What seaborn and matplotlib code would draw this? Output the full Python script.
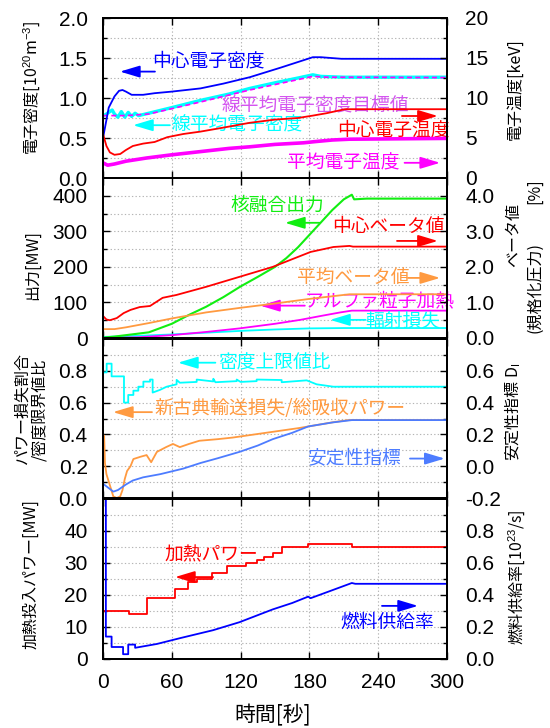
import matplotlib
matplotlib.use("Agg")
import matplotlib.pyplot as plt
from matplotlib.ticker import FixedLocator, FormatStrFormatter
import pandas as pd
import seaborn as sns

# ---------------- time traces (time in seconds) ----------------
# panel 1: densities (1e20 m^-3, left) and temperatures (keV, right)
ne0_t = [0, 2, 5, 10, 14, 17, 20, 25, 35, 45, 60, 85, 105, 128, 155, 183, 190, 208, 300]
ne0 = [0.50, 0.65, 0.88, 1.02, 1.09, 1.10, 1.08, 1.04, 1.04, 1.06, 1.08, 1.12, 1.18, 1.26,
       1.38, 1.51, 1.51, 1.49, 1.49]

nebar_t = [0, 2, 5, 8, 10, 13, 16, 19, 22, 25, 28, 31, 40, 60, 85, 110, 128, 150, 170, 183,
           190, 210, 300]
nebar = [0.78, 0.79, 0.82, 0.85, 0.80, 0.76, 0.83, 0.76, 0.82, 0.77, 0.81, 0.78, 0.81, 0.88,
         0.97, 1.05, 1.12, 1.19, 1.25, 1.29, 1.27, 1.26, 1.26]

target_t = [0, 20, 40, 85, 128, 183, 195, 300]
target = [0.78, 0.78, 0.80, 0.95, 1.10, 1.27, 1.26, 1.255]

te0_t = [0, 3, 6, 10, 15, 20, 26, 35, 45, 56, 70, 85, 105, 128, 150, 170, 183, 195, 211, 300]
te0 = [5.5, 4.0, 3.2, 2.9, 3.0, 3.5, 4.0, 4.3, 4.5, 5.1, 5.5, 5.8, 6.3, 6.9, 7.3, 7.5, 7.8,
       8.1, 8.6, 8.6]

teavg_t = [0, 4, 10, 20, 38, 60, 85, 110, 128, 150, 175, 185, 200, 215, 300]
teavg = [1.9, 1.6, 1.75, 2.1, 2.5, 2.9, 3.3, 3.7, 3.9, 4.2, 4.4, 4.55, 4.75, 4.85, 4.95]

# panel 2: powers (MW, left) and beta (%, right)
pfus_t = [0, 10, 20, 30, 40, 50, 60, 75, 90, 105, 120, 135, 150, 160, 170, 180, 190, 200,
          210, 217, 219, 230, 300]
pfus = [1, 4, 8, 12, 16, 28, 40, 65, 88, 115, 145, 172, 200, 225, 255, 290, 325, 360, 390,
        403, 390, 392, 392]

beta0_t = [0, 3, 6, 12, 18, 24, 32, 41, 52, 64, 90, 119, 148, 181, 201, 215, 218, 300]
beta0 = [0.62, 0.52, 0.50, 0.56, 0.70, 0.79, 0.87, 0.90, 1.13, 1.21, 1.44, 1.72, 2.00, 2.42,
         2.56, 2.59, 2.57, 2.57]

betaavg_t = [0, 10, 20, 40, 60, 90, 120, 150, 180, 215, 300]
betaavg = [0.25, 0.25, 0.30, 0.42, 0.55, 0.72, 0.85, 0.97, 1.10, 1.23, 1.23]

palpha_t = [0, 30, 60, 90, 119, 150, 172, 190, 207, 217, 300]
palpha = [0, 2, 8, 17, 27, 40, 51, 62, 72, 77, 77]

prad_t = [0, 30, 60, 90, 120, 150, 180, 210, 300]
prad = [3, 6, 10, 15, 20, 24, 27, 28, 28]

# panel 3: loss fraction / density-limit ratio (left), stability index D_I (right)
ndl_t = [0, 3.2, 3.2, 7.5, 7.5, 18.3, 18.3, 22, 22, 26.5, 26.5, 30.8, 30.8, 35.2, 35.2, 41,
         41, 43.3, 43.3, 49.7, 55.5, 64.2, 64.2, 67, 81.7, 81.7, 96.2, 96.2, 98, 116.6,
         116.6, 120, 134, 134, 155.8, 155.8, 177.6, 186.3, 200.9, 300]
ndl = [0.79, 0.79, 0.845, 0.845, 0.765, 0.765, 0.60, 0.60, 0.648, 0.648, 0.675, 0.675, 0.70,
       0.70, 0.732, 0.732, 0.745, 0.745, 0.663, 0.68, 0.70, 0.715, 0.743, 0.725, 0.73, 0.745,
       0.733, 0.75, 0.728, 0.735, 0.745, 0.73, 0.735, 0.745, 0.742, 0.728, 0.74, 0.715, 0.70,
       0.70]

neo_t = [0, 1, 1.7, 3, 6, 9, 12, 15, 17, 19, 21, 24, 26.5, 33, 38, 42, 47, 55, 61, 67, 75,
         84, 100, 113, 142, 171, 201, 214, 300]
neo = [0.40, 0.39, 0.22, 0.15, 0.08, 0.01, 0.0, 0.01, 0.05, 0.12, 0.17, 0.20, 0.245, 0.26,
       0.27, 0.225, 0.29, 0.32, 0.34, 0.32, 0.34, 0.36, 0.37, 0.38, 0.41, 0.44, 0.477, 0.49,
       0.49]

stab_t = [0, 9, 13, 20, 26, 35, 50, 70, 85, 100, 119, 135, 148, 165, 179, 200, 217, 300]
stab = [-0.11, -0.16, -0.15, -0.115, -0.09, -0.07, -0.05, -0.015, 0.02, 0.05, 0.09, 0.13,
        0.17, 0.21, 0.25, 0.275, 0.29, 0.29]

# panel 4: heating power (MW, left, stepwise) and fuelling rate (1e23/s, right)
heat_t = [0, 23, 38, 63, 74, 82, 95, 108, 125, 134, 140, 148, 156, 179, 217, 300]
heat = [15, 14, 19, 22, 24, 25, 27, 29, 30, 31, 32, 33, 35, 36, 35, 35]

fuel_t = [0, 2.5, 2.5, 7.5, 7.5, 17.5, 17.5, 22, 22, 28, 28, 47, 67, 96, 119, 148, 165, 179,
          181, 200, 217, 220, 300]
fuel = [1.05, 1.05, 0.14, 0.14, 0.075, 0.075, 0.03, 0.03, 0.09, 0.09, 0.07, 0.094, 0.13, 0.18,
        0.23, 0.31, 0.35, 0.39, 0.38, 0.43, 0.475, 0.47, 0.47]

# axis ticks
x_ticks = [0, 60, 120, 180, 240, 300]

# ---------------- style ----------------
sns.set_theme(style="ticks")
plt.rcParams["font.family"] = ["Liberation Sans", "Noto Sans CJK JP"]
plt.rcParams["mathtext.fontset"] = "custom"
plt.rcParams["mathtext.rm"] = "Liberation Sans"
plt.rcParams["mathtext.it"] = "Liberation Sans:italic"
plt.rcParams["mathtext.bf"] = "Liberation Sans:bold"

JP = ["Noto Sans CJK JP", "Liberation Sans"]
BLUE = "#0000ff"
RED = "#ff0000"
CYAN = "#00ffff"
MAGENTA = "#ff00ff"
VIOLET = "#d455f0"
GREEN = "#11ee11"
ORANGE = "#ff9a40"
SKY = "#4d7cff"

W, H = 550, 728
fig = plt.figure(figsize=(W / 100, H / 100), dpi=100)


def panel(top, bottom):
    return fig.add_axes([103 / W, 1 - bottom / H, 344 / W, (bottom - top) / H])


def trace(ax, t, v, color, lw=1.3, **kw):
    frame = pd.DataFrame({"t": t, "v": v})
    sns.lineplot(data=frame, x="t", y="v", ax=ax, color=color, linewidth=lw,
                 sort=False, estimator=None, legend=False, **kw)
    ax.set_xlabel("")
    ax.set_ylabel("")


def style(ax, ax2, ylim, lmaj, lmin, lfmt, y2lim, rmaj, rmin, rfmt, bottom=False):
    ax.set_xlim(0, 300)
    ax.set_ylim(*ylim)
    ax2.set_ylim(*y2lim)
    ax.xaxis.set_major_locator(FixedLocator(x_ticks))
    ax.yaxis.set_major_locator(FixedLocator(lmaj))
    ax.yaxis.set_minor_locator(FixedLocator(lmin))
    ax.yaxis.set_major_formatter(FormatStrFormatter(lfmt))
    ax2.yaxis.set_major_locator(FixedLocator(rmaj))
    ax2.yaxis.set_minor_locator(FixedLocator(rmin))
    ax2.yaxis.set_major_formatter(FormatStrFormatter(rfmt))
    ax.tick_params(axis="x", which="major", direction="in", top=True, bottom=True,
                   length=5, width=1, labelsize=15, pad=10, labelbottom=bottom,
                   colors="black")
    ax.tick_params(axis="y", which="both", direction="in", left=True, right=False,
                   labelsize=15, pad=11, width=1, colors="black")
    ax.tick_params(axis="y", which="major", length=5)
    ax.tick_params(axis="y", which="minor", length=3)
    ax2.tick_params(axis="y", which="both", direction="in", right=True, left=False,
                    labelsize=15, pad=13, width=1, colors="black")
    ax2.tick_params(axis="y", which="major", length=5)
    ax2.tick_params(axis="y", which="minor", length=3)
    ax.grid(True, which="both", axis="y", color="#b5b5b5", linestyle=(0, (1.2, 2)), lw=0.8)
    ax.grid(True, which="major", axis="x", color="#b5b5b5", linestyle=(0, (1.2, 2)), lw=0.8)
    for a in (ax, ax2):
        for sp in a.spines.values():
            sp.set_linewidth(1.4)
            sp.set_color("black")


def note(ax, text, xy, color, tail=None, tip=None):
    ax.text(xy[0], xy[1], text, color=color, fontsize=13.5, family=JP,
            ha="left", va="center")
    if tail is not None:
        ax.annotate("", xy=tip, xytext=tail,
                    arrowprops=dict(arrowstyle="-|>,head_length=0.6,head_width=0.18",
                                    color=color, lw=1.3, mutation_scale=20,
                                    shrinkA=0, shrinkB=0))


def label(x, y, text, size=11.5):
    fig.text(x / W, 1 - y / H, text, rotation=90, ha="center", va="center",
             fontsize=size, family=JP, color="black")


# ---------------- panel 1 ----------------
ax1 = panel(18, 178)
ax1r = ax1.twinx()
trace(ax1, nebar_t, nebar, CYAN, lw=2.4)
trace(ax1, target_t, target, MAGENTA, lw=1.2, linestyle=(0, (3, 2)))
trace(ax1, ne0_t, ne0, BLUE)
trace(ax1r, te0_t, te0, RED)
trace(ax1r, teavg_t, teavg, MAGENTA, lw=2.6)
style(ax1, ax1r, (0, 2.0), [0, 0.5, 1.0, 1.5, 2.0], [0.25, 0.75, 1.25, 1.75], "%.1f",
      (0, 20), [0, 5, 10, 15, 20], [2.5, 7.5, 12.5, 17.5], "%d")
note(ax1, "中心電子密度", (42.7, 1.46), BLUE, tail=(45.3, 1.33), tip=(14.8, 1.33))
note(ax1, "線平均電子密度目標値", (103.8, 0.91), VIOLET)
note(ax1, "線平均電子密度", (60, 0.66), CYAN, tail=(58.3, 0.66), tip=(26.2, 0.66))
note(ax1, "中心電子温度", (204, 0.60), RED, tail=(260.7, 0.775), tip=(292, 0.775))
note(ax1, "平均電子温度", (160.5, 0.19), MAGENTA, tail=(263, 0.19), tip=(294, 0.19))

# ---------------- panel 2 ----------------
ax2 = panel(178, 338)
ax2r = ax2.twinx()
trace(ax2, prad_t, prad, CYAN)
trace(ax2, palpha_t, palpha, MAGENTA)
trace(ax2, pfus_t, pfus, GREEN, lw=1.5)
trace(ax2r, betaavg_t, betaavg, ORANGE)
trace(ax2r, beta0_t, beta0, RED)
style(ax2, ax2r, (0, 450), [0, 100, 200, 300, 400], [50, 150, 250, 350], "%d",
      (0, 4.5), [0, 1, 2, 3, 4], [0.5, 1.5, 2.5, 3.5], "%.1f")
note(ax2, "核融合出力", (110.8, 372), GREEN, tail=(189, 324), tip=(158.7, 324))
note(ax2, "中心ベータ値", (199.7, 313), RED, tail=(256.4, 273), tip=(292, 273))
note(ax2, "平均ベータ値", (169, 169), ORANGE, tail=(266, 169), tip=(294, 169))
note(ax2, "アルファ粒子加熱", (176, 104), MAGENTA, tail=(176, 91), tip=(137, 91))
note(ax2, "輻射損失", (228.5, 49), CYAN, tail=(229, 51), tip=(198, 51))

# ---------------- panel 3 ----------------
ax3 = panel(339, 498)
ax3r = ax3.twinx()
trace(ax3, ndl_t, ndl, CYAN)
trace(ax3, neo_t, neo, ORANGE)
trace(ax3r, stab_t, stab, SKY)
style(ax3, ax3r, (0, 1.0), [0, 0.2, 0.4, 0.6, 0.8], [0.1, 0.3, 0.5, 0.7, 0.9], "%.1f",
      (-0.2, 0.8), [-0.2, 0, 0.2, 0.4, 0.6], [-0.1, 0.1, 0.3, 0.5, 0.7], "%.1f")
note(ax3, "密度上限値比", (100.3, 0.851), CYAN, tail=(98, 0.851), tip=(65.4, 0.851))
note(ax3, "新古典輸送損失/総吸収パワー", (45.3, 0.565), ORANGE, tail=(42.7, 0.54),
     tip=(8.7, 0.54))
note(ax3, "安定性指標", (178.8, 0.248), SKY, tail=(267.7, 0.248), tip=(298, 0.248))

# ---------------- panel 4 ----------------
ax4 = panel(499, 659)
ax4r = ax4.twinx()
trace(ax4, heat_t, heat, RED, drawstyle="steps-post")
trace(ax4r, fuel_t, fuel, BLUE)
style(ax4, ax4r, (0, 50), [0, 10, 20, 30, 40], [5, 15, 25, 35, 45], "%d",
      (0, 1.0), [0, 0.2, 0.4, 0.6, 0.8], [0.1, 0.3, 0.5, 0.7, 0.9], "%.1f", bottom=True)
note(ax4, "加熱パワー", (54, 32.5), RED, tail=(96, 25.6), tip=(62.8, 25.6))
note(ax4, "燃料供給率", (206.7, 11.6), BLUE, tail=(243.3, 16.6), tip=(274.7, 16.6))

# ---------------- axis titles ----------------
label(32, 88, "電子密度[10$^{20}$m$^{-3}$]")
label(32, 265, "出力[MW]")
label(22, 408, "パワー損失割合")
label(40, 410, "/密度限界値比")
label(31, 574, "加熱投入パワー[MW]")
label(515, 89, "電子温度[keV]")
label(514, 235, "ベータ値")
label(535, 288, "(規格化圧力)")
label(535, 191, "[%]")
label(513, 412, "安定性指標 D$_\\mathrm{I}$")
label(517, 577, "燃料供給率[10$^{23}$/s]")
fig.text(273 / W, 1 - 715 / H, "時間[秒]", ha="center", va="center", fontsize=15,
         family=JP, color="black")

fig.savefig("out.png", dpi=100)
